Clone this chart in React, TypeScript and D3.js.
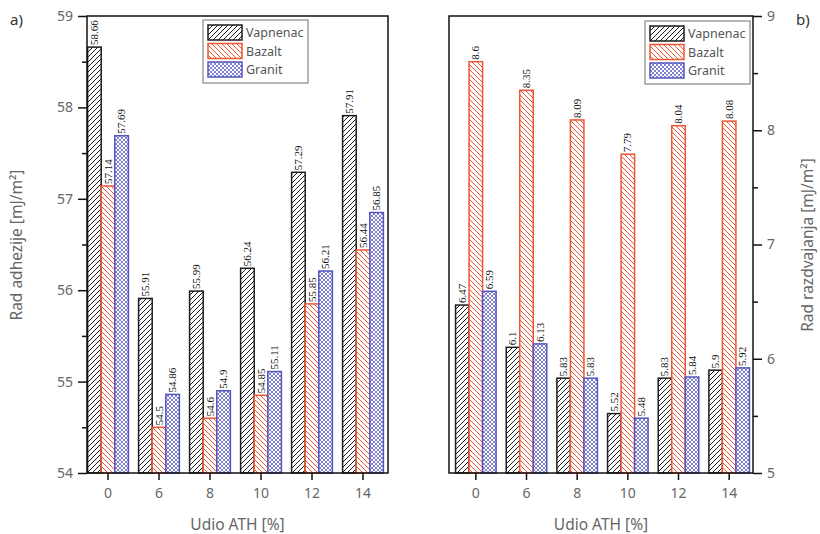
import React, { useRef, useEffect } from "react";
import * as d3 from "d3";

const categories = ["0", "6", "8", "10", "12", "14"];
const seriesNames = ["Vapnenac", "Bazalt", "Granit"];

// a) Rad adhezije
const adhVapnenac = [58.66, 55.91, 55.99, 56.24, 57.29, 57.91];
const adhBazalt = [57.14, 54.5, 54.6, 54.85, 55.85, 56.44];
const adhGranit = [57.69, 54.86, 54.9, 55.11, 56.21, 56.85];

// b) Rad razdvajanja
const razVapnenac = [6.47, 6.1, 5.83, 5.52, 5.83, 5.9];
const razBazalt = [8.6, 8.35, 8.09, 7.79, 8.04, 8.08];
const razGranit = [6.59, 6.13, 5.83, 5.48, 5.84, 5.92];

const adhTicks = [54, 55, 56, 57, 58, 59];
const adhMinor = [54.5, 55.5, 56.5, 57.5, 58.5];
const razTicks = [5, 6, 7, 8, 9];
const razMinor = [5.5, 6.5, 7.5, 8.5];

const colors = ["#1c1c1c", "#ee5533", "#5555c0"];
const patterns = ["pVap", "pBaz", "pGra"];
const labelFont = "'Noto Sans', 'Open Sans', sans-serif";
const gray = "#666";

const App = () => {
  const svgRef = useRef(null);

  useEffect(() => {
    const svg = d3.select(svgRef.current);
    svg.selectAll("*").remove();

    // patterns
    const defs = svg.append("defs");
    const p1 = defs.append("pattern").attr("id", "pVap").attr("patternUnits", "userSpaceOnUse")
      .attr("width", 5).attr("height", 5);
    p1.append("rect").attr("width", 5).attr("height", 5).attr("fill", "#fff");
    p1.append("path").attr("d", "M-1,1 l2,-2 M0,5 l5,-5 M4,6 l2,-2")
      .attr("stroke", colors[0]).attr("stroke-width", 1);
    const p2 = defs.append("pattern").attr("id", "pBaz").attr("patternUnits", "userSpaceOnUse")
      .attr("width", 5).attr("height", 5);
    p2.append("rect").attr("width", 5).attr("height", 5).attr("fill", "#fff");
    p2.append("path").attr("d", "M-1,4 l2,2 M0,0 l5,5 M4,-1 l2,2")
      .attr("stroke", colors[1]).attr("stroke-width", 1);
    const p3 = defs.append("pattern").attr("id", "pGra").attr("patternUnits", "userSpaceOnUse")
      .attr("width", 4).attr("height", 4);
    p3.append("rect").attr("width", 4).attr("height", 4).attr("fill", "#fff");
    p3.append("path").attr("d", "M-1,1 l2,-2 M0,4 l4,-4 M3,5 l2,-2 M-1,3 l2,2 M0,0 l4,4 M3,-1 l2,2")
      .attr("stroke", colors[2]).attr("stroke-width", 0.75);

    const drawPanel = (o) => {
      const g = svg.append("g");
      const x = d3.scaleBand().domain(categories).range([o.bandStart, o.bandEnd])
        .paddingInner(0.2).paddingOuter(0.1);
      const y = d3.scaleLinear().domain(o.domain).range([473, 16]);
      const bw = x.bandwidth() / 3;

      // bars
      o.data.forEach((vals, j) => {
        g.append("g").selectAll("rect").data(vals).enter().append("rect")
          .attr("x", (d, i) => x(categories[i]) + j * bw)
          .attr("y", (d) => y(d))
          .attr("width", bw)
          .attr("height", (d) => y(o.domain[0]) - y(d))
          .attr("fill", `url(#${patterns[j]})`)
          .attr("stroke", colors[j])
          .attr("stroke-width", 1.5);
        g.append("g").selectAll("text").data(vals).enter().append("text")
          .attr("transform", (d, i) =>
            `translate(${x(categories[i]) + j * bw + bw / 2 + 3.5}, ${y(d) - 2}) rotate(-90)`)
          .attr("font-family", "'Liberation Serif', serif")
          .attr("font-size", 11)
          .attr("fill", "#111")
          .text((d) => String(d));
      });

      // frame
      g.append("rect").attr("x", o.x0).attr("y", 16).attr("width", o.x1 - o.x0).attr("height", 473 - 16)
        .attr("fill", "none").attr("stroke", "#111").attr("stroke-width", 1.5);

      // y axis
      const axX = o.side === "left" ? o.x0 : o.x1;
      const mk = o.side === "left" ? d3.axisLeft : d3.axisRight;
      const ya = g.append("g").attr("transform", `translate(${axX},0)`)
        .call(mk(y).tickValues(o.ticks).tickSize(9).tickPadding(5).tickFormat(d3.format("d")));
      ya.select(".domain").remove();
      ya.selectAll("line").attr("stroke", "#111").attr("stroke-width", 1.5);
      ya.selectAll("text").attr("font-family", labelFont).attr("font-size", 14).attr("fill", gray);
      const ym = g.append("g").attr("transform", `translate(${axX},0)`)
        .call(mk(y).tickValues(o.minor).tickSize(5).tickFormat(() => ""));
      ym.select(".domain").remove();
      ym.selectAll("line").attr("stroke", "#111").attr("stroke-width", 1.5);

      // x axis
      const xa = g.append("g").attr("transform", "translate(0,473)")
        .call(d3.axisBottom(x).tickSize(7).tickPadding(8));
      xa.select(".domain").remove();
      xa.selectAll("line").attr("stroke", "#111").attr("stroke-width", 1.5);
      xa.selectAll("text").attr("font-family", labelFont).attr("font-size", 14).attr("fill", gray);

      g.append("text").attr("x", (o.x0 + o.x1) / 2).attr("y", 530)
        .attr("text-anchor", "middle").attr("font-family", labelFont).attr("font-size", 15.5)
        .attr("fill", gray).text("Udio ATH [%]");

      g.append("text").attr("transform", `translate(${o.yLabelX},245) rotate(-90)`)
        .attr("text-anchor", "middle").attr("font-family", labelFont).attr("font-size", 15.5)
        .attr("fill", gray).text(o.yLabel);

      g.append("text").attr("x", o.tagX).attr("y", 25).attr("font-family", labelFont)
        .attr("font-size", 15).attr("fill", "#333").text(o.tag);

      // legend
      const lg = g.append("g").attr("transform", `translate(${o.legX},${o.legY})`);
      lg.append("rect").attr("width", 105).attr("height", 63).attr("fill", "#fff")
        .attr("stroke", "#888").attr("stroke-width", 1.2);
      seriesNames.forEach((s, j) => {
        lg.append("rect").attr("x", 5).attr("y", 5 + j * 18.5).attr("width", 34).attr("height", 15)
          .attr("fill", `url(#${patterns[j]})`).attr("stroke", colors[j]).attr("stroke-width", 1.5);
        lg.append("text").attr("x", 43).attr("y", 17 + j * 18.5).attr("font-family", labelFont)
          .attr("font-size", 12.5).attr("fill", "#555").text(s);
      });
    };

    drawPanel({
      x0: 87, x1: 388, bandStart: 82.5, bandEnd: 388.5,
      domain: [54, 59], ticks: adhTicks, minor: adhMinor, side: "left",
      data: [adhVapnenac, adhBazalt, adhGranit],
      yLabel: "Rad adhezije [mJ/m²]", yLabelX: 22, tag: "a)", tagX: 10,
      legX: 203, legY: 20,
    });
    drawPanel({
      x0: 449, x1: 753, bandStart: 450.5, bandEnd: 754.5,
      domain: [5, 9], ticks: razTicks, minor: razMinor, side: "right",
      data: [razVapnenac, razBazalt, razGranit],
      yLabel: "Rad razdvajanja [mJ/m²]", yLabelX: 813, tag: "b)", tagX: 796,
      legX: 645, legY: 21,
    });
  });

  return (
    <div>
      <svg ref={svgRef} width={820} height={534}
        style={{ position: "absolute", left: 0, top: 0, background: "#fff" }}></svg>
    </div>
  );
};

export default App;
